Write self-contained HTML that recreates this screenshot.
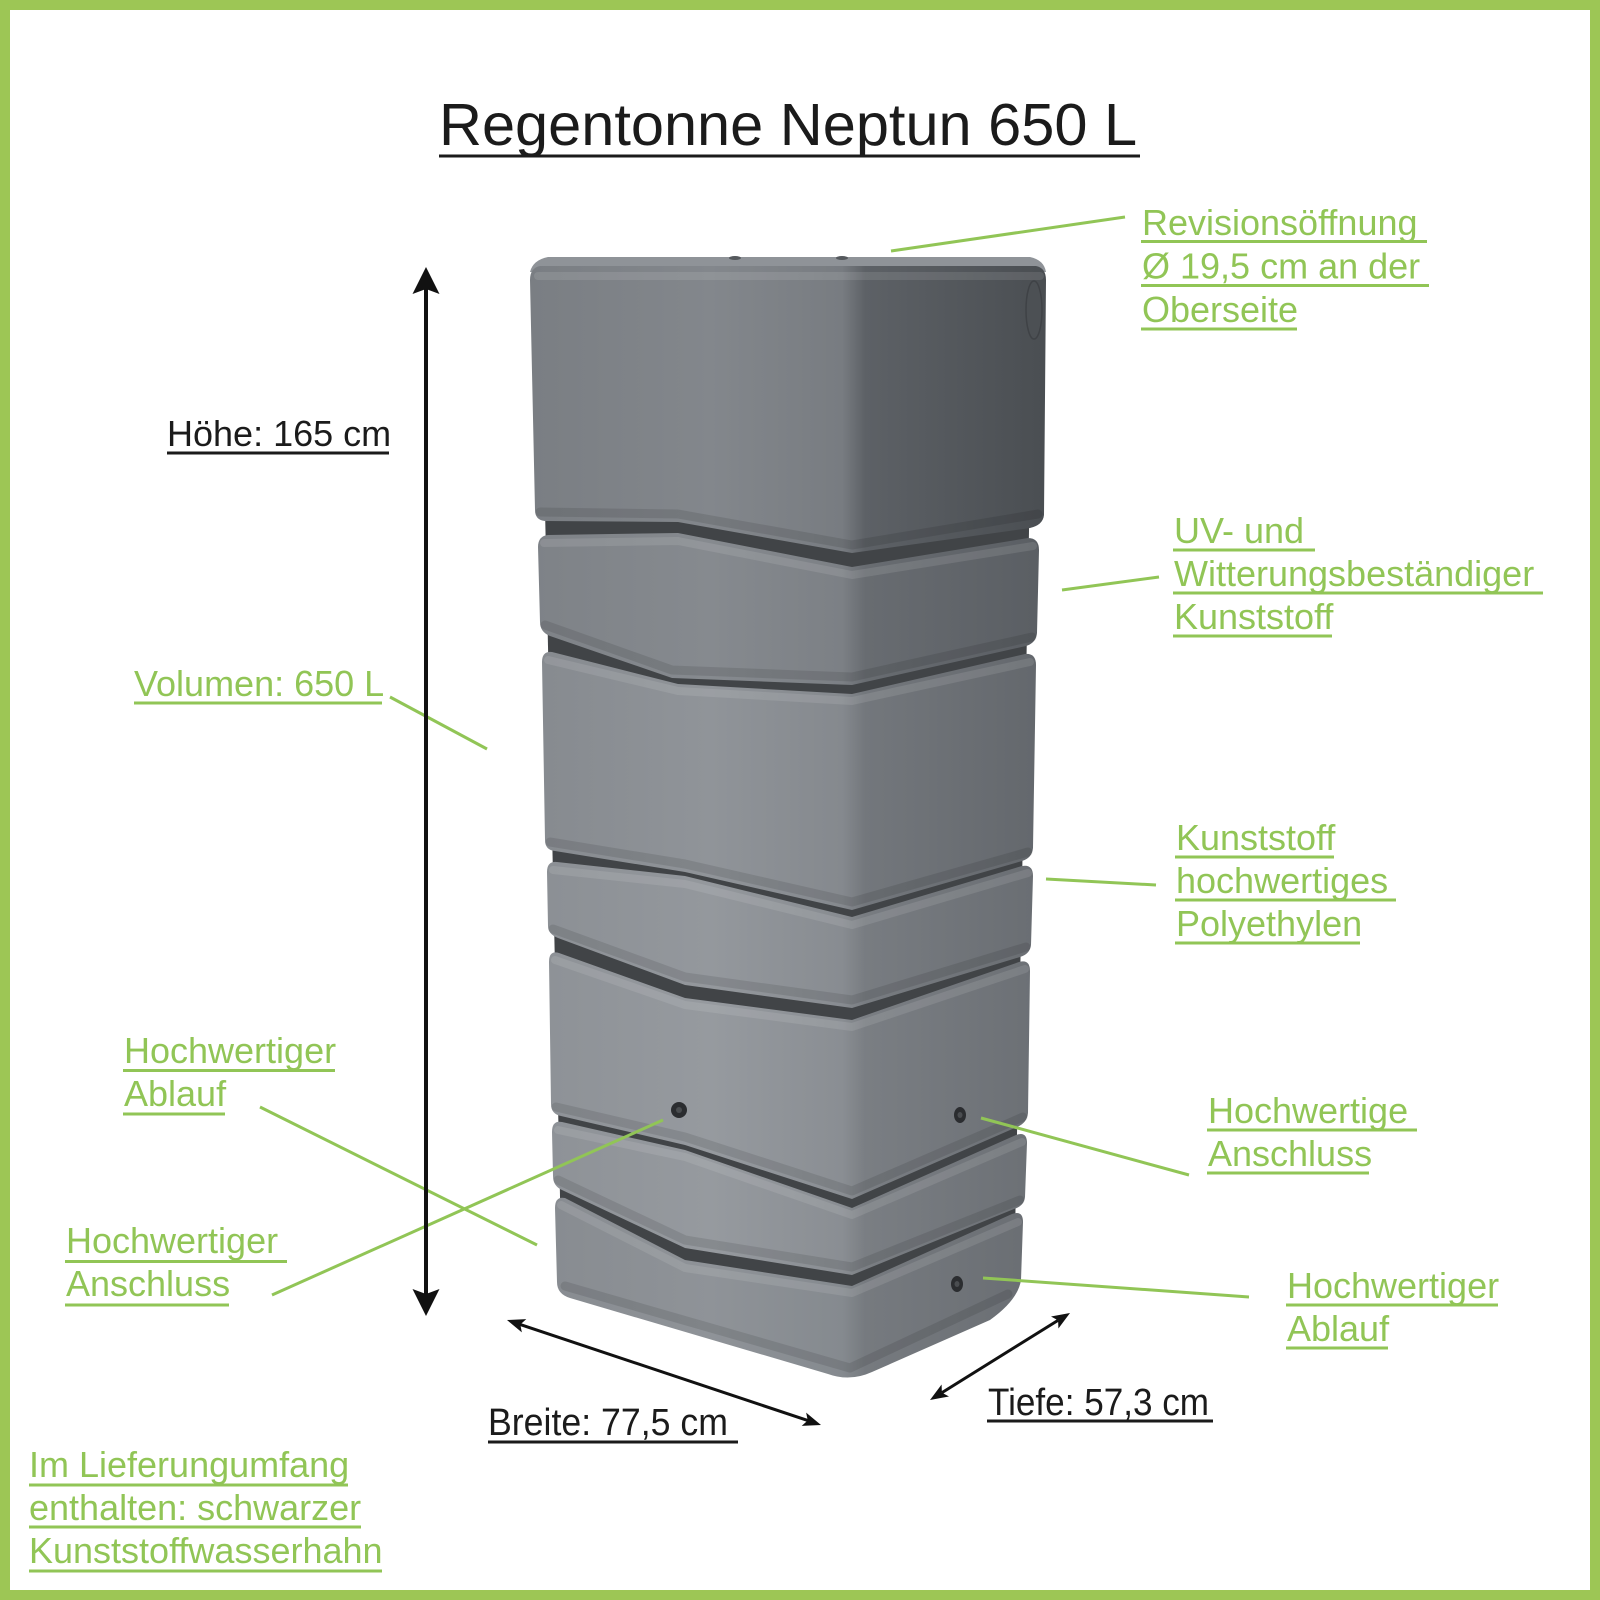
<!DOCTYPE html>
<html>
<head>
<meta charset="utf-8">
<style>
html,body{margin:0;padding:0;background:#fff;}
svg{display:block;}
</style>
</head>
<body>
<svg width="1600" height="1600" viewBox="0 0 1600 1600" xmlns="http://www.w3.org/2000/svg">
<defs>
<linearGradient id="g1" gradientUnits="userSpaceOnUse" x1="530" y1="0" x2="1046" y2="0">
<stop offset="0" stop-color="#7a7e83"/><stop offset="0.35" stop-color="#83878c"/><stop offset="0.605" stop-color="#787c81"/><stop offset="0.65" stop-color="#5d6166"/><stop offset="1" stop-color="#4a4e52"/>
</linearGradient>
<linearGradient id="g2" gradientUnits="userSpaceOnUse" x1="530" y1="0" x2="1046" y2="0">
<stop offset="0" stop-color="#7e8287"/><stop offset="0.35" stop-color="#868a8f"/><stop offset="0.605" stop-color="#7c8085"/><stop offset="0.65" stop-color="#686c71"/><stop offset="1" stop-color="#5a5e63"/>
</linearGradient>
<linearGradient id="g3" gradientUnits="userSpaceOnUse" x1="530" y1="0" x2="1046" y2="0">
<stop offset="0" stop-color="#868a8f"/><stop offset="0.35" stop-color="#909499"/><stop offset="0.605" stop-color="#85898e"/><stop offset="0.65" stop-color="#73777c"/><stop offset="1" stop-color="#63676c"/>
</linearGradient>
<linearGradient id="g4" gradientUnits="userSpaceOnUse" x1="530" y1="0" x2="1046" y2="0">
<stop offset="0" stop-color="#8b8f94"/><stop offset="0.35" stop-color="#94989d"/><stop offset="0.605" stop-color="#888c91"/><stop offset="0.65" stop-color="#787c81"/><stop offset="1" stop-color="#696d72"/>
</linearGradient>
<linearGradient id="g5" gradientUnits="userSpaceOnUse" x1="530" y1="0" x2="1046" y2="0">
<stop offset="0" stop-color="#8d9196"/><stop offset="0.35" stop-color="#969a9f"/><stop offset="0.605" stop-color="#8a8e93"/><stop offset="0.65" stop-color="#7a7e83"/><stop offset="1" stop-color="#6b6f74"/>
</linearGradient>
<linearGradient id="g7" gradientUnits="userSpaceOnUse" x1="530" y1="0" x2="1046" y2="0">
<stop offset="0" stop-color="#878b90"/><stop offset="0.35" stop-color="#8f9398"/><stop offset="0.605" stop-color="#858a8f"/><stop offset="0.65" stop-color="#767a7f"/><stop offset="1" stop-color="#696d72"/>
</linearGradient>
</defs>

<!-- border -->
<rect x="5" y="5" width="1590" height="1590" fill="#ffffff" stroke="#9dc655" stroke-width="10"/>

<!-- title -->
<text x="439" y="145" font-family="'Liberation Sans', Arial, sans-serif" font-size="59.5" fill="#1b1b1b">Regentonne Neptun 650 L</text>
<rect x="439" y="154.5" width="701" height="3" fill="#1b1b1b"/>

<!-- tank backing -->
<path d="M540,280 L1034,280 L1014,1285 L852,1370 L562,1288 Z" fill="#414447"/>

<!-- top surface -->
<path d="M548,257 L1030,257 Q1044,260 1046,272 L530,272 Q533,260 548,257 Z" fill="#8f9398"/>
<ellipse cx="735" cy="258" rx="6" ry="2" fill="#55595d"/>
<ellipse cx="842" cy="258" rx="6" ry="2" fill="#55595d"/>

<g stroke-linejoin="round">
<!-- block 1 -->
<path d="M540,266 L1036,266 Q1046,268 1046,280 L1044,515 Q1043,525 1030,528 L852,553 L678,522 L545,521 Q535,520 535,510 L530,280 Q530,268 540,266 Z" fill="url(#g1)"/>
<!-- block 2 -->
<path d="M548,535 L678,533 L852,567 L1028,538 Q1039,538 1039,550 L1037,633 Q1036,643 1026,646 L852,685 L672,678 L550,636 Q540,632 540,622 L538,547 Q538,536 548,535 Z" fill="url(#g2)"/>
<!-- block 3 -->
<path d="M552,652 L678,684 L852,694 L1025,654 Q1036,653 1036,665 L1033,848 Q1032,858 1022,861 L852,910 L685,872 L555,851 Q545,850 545,840 L542,662 Q542,651 552,652 Z" fill="url(#g3)"/>
<!-- block 4 -->
<path d="M557,862 L685,876 L852,917 L1022,866 Q1033,864 1033,876 L1031,945 Q1030,954 1020,957 L852,1008 L685,985 L558,938 Q548,934 548,926 L547,872 Q547,861 557,862 Z" fill="url(#g4)"/>
<!-- block 5 -->
<path d="M559,953 L685,998 L852,1020 L1019,962 Q1030,959 1030,971 L1028,1113 Q1027,1123 1017,1127 L852,1199 L685,1145 L561,1116 Q551,1114 551,1104 L549,962 Q549,950 559,953 Z" fill="url(#g5)"/>
<!-- block 6 -->
<path d="M562,1122 L685,1150 L852,1208 L1016,1135 Q1027,1131 1027,1143 L1025,1197 Q1024,1206 1014,1209 L852,1275 L685,1248 L562,1190 Q553,1186 553,1176 L552,1132 Q552,1120 562,1122 Z" fill="url(#g5)"/>
<!-- block 7 -->
<path d="M565,1198 L685,1260 L852,1286 L1012,1214 Q1023,1210 1023,1222 L1021,1280 Q1018,1300 990,1320 L872,1372 Q850,1382 828,1374 L570,1298 Q557,1294 557,1282 L555,1208 Q555,1196 565,1198 Z" fill="url(#g7)"/>
</g>

<!-- edge highlights / shadows -->
<g fill="none" stroke-linejoin="round" stroke-linecap="round">
<g stroke="rgba(255,255,255,0.10)" stroke-width="8">
<path d="M538,276 L1040,276"/>
<path d="M544,543 L678,541 L852,575 L1033,546"/>
<path d="M548,660 L678,691 L852,701 L1030,662"/>
<path d="M553,870 L685,884 L852,925 L1028,873"/>
<path d="M555,960 L685,1005 L852,1027 L1025,969"/>
<path d="M558,1130 L685,1157 L852,1215 L1022,1142"/>
<path d="M561,1205 L685,1268 L852,1293 L1018,1222"/>
</g>
<g stroke="rgba(0,0,0,0.10)" stroke-width="9">
<path d="M540,512 L678,514 L852,545 L1038,514"/>
<path d="M545,625 L672,670 L852,677 L1032,637"/>
<path d="M550,842 L685,864 L852,902 L1028,852"/>
<path d="M553,929 L685,977 L852,1000 L1026,947"/>
<path d="M556,1107 L685,1137 L852,1191 L1023,1117"/>
<path d="M558,1180 L685,1240 L852,1267 L1020,1200"/>
<path d="M565,1286 L850,1368 L1008,1294"/>
</g>
</g>

<!-- oval on top block -->
<ellipse cx="1034" cy="310" rx="8" ry="29" fill="#4c5054" stroke="#3f4246" stroke-width="1.5"/>

<!-- screws -->
<circle cx="679" cy="1110" r="8" fill="#2b2d30"/><circle cx="679" cy="1110" r="3" fill="#4a4d50"/>
<ellipse cx="960" cy="1115" rx="6" ry="8" fill="#2b2d30"/><ellipse cx="960" cy="1115" rx="2.5" ry="3" fill="#4a4d50"/>
<ellipse cx="957" cy="1284" rx="6" ry="8" fill="#2b2d30"/><ellipse cx="957" cy="1284" rx="2.5" ry="3" fill="#4a4d50"/>

<!-- green leader lines -->
<g stroke="#91c556" stroke-width="3" stroke-linecap="butt">
<line x1="891" y1="251" x2="1125" y2="217"/>
<line x1="1062" y1="590" x2="1159" y2="577"/>
<line x1="1046" y1="879" x2="1156" y2="885"/>
<line x1="390" y1="697" x2="487" y2="749"/>
<line x1="260" y1="1107" x2="537" y2="1245"/>
<line x1="272" y1="1295" x2="663" y2="1120"/>
<line x1="981" y1="1118" x2="1189" y2="1175"/>
<line x1="983" y1="1278" x2="1249" y2="1297"/>
</g>

<!-- black dimension arrows -->
<g fill="#111">
<rect x="424" y="287" width="4" height="1009"/>
<polygon points="426,267 439.5,294 426,289 412.5,294"/>
<polygon points="426,1316 439.5,1289 426,1294 412.5,1289"/>
<polygon points="507,1320 521.85,1332.35 520.28,1324.44 526.29,1319.07"/>
<polygon points="821,1425 801.71,1425.93 807.72,1420.56 806.15,1412.65"/>
<polygon points="1070,1313 1051.01,1316.55 1058.11,1320.39 1058.41,1328.45"/>
<polygon points="930,1400 941.59,1384.55 941.89,1392.61 948.99,1396.45"/>
</g>
<g stroke="#111" stroke-width="3">
<line x1="520" y1="1324.4" x2="808" y2="1420.6"/>
<line x1="1058" y1="1320.4" x2="942" y2="1392.6"/>
</g>

<!-- black labels -->
<g font-family="'Liberation Sans', Arial, sans-serif" fill="#1b1b1b">
<text x="167" y="446" font-size="36">Höhe: 165 cm</text>
<rect x="167" y="451.5" width="222" height="3"/>
<text x="488" y="1435" font-size="38" textLength="240" lengthAdjust="spacingAndGlyphs">Breite: 77,5 cm</text>
<rect x="488" y="1440.5" width="250" height="3"/>
<text x="988" y="1415" font-size="38" textLength="221" lengthAdjust="spacingAndGlyphs">Tiefe: 57,3 cm</text>
<rect x="987" y="1419.5" width="226" height="3"/>
</g>

<!-- green labels -->
<g font-family="'Liberation Sans', Arial, sans-serif" font-size="36" fill="#91c556">
<text x="1142" y="235">Revisionsöffnung</text>
<rect x="1141" y="240" width="286" height="3"/>
<text x="1142" y="278.5">Ø 19,5 cm an der</text>
<rect x="1141" y="284" width="288" height="3"/>
<text x="1142" y="322">Oberseite</text>
<rect x="1141" y="327.5" width="156" height="3"/>

<text x="1174" y="543">UV- und</text>
<rect x="1173" y="548.5" width="142" height="3"/>
<text x="1174" y="586">Witterungsbeständiger</text>
<rect x="1173" y="591.5" width="370" height="3"/>
<text x="1174" y="629">Kunststoff</text>
<rect x="1173" y="634.5" width="159" height="3"/>

<text x="1176" y="850">Kunststoff</text>
<rect x="1175" y="855.5" width="159" height="3"/>
<text x="1176" y="893">hochwertiges</text>
<rect x="1175" y="898.5" width="221" height="3"/>
<text x="1176" y="936">Polyethylen</text>
<rect x="1175" y="941.5" width="185" height="3"/>

<text x="1208" y="1123">Hochwertige</text>
<rect x="1207" y="1128.5" width="210" height="3"/>
<text x="1208" y="1166">Anschluss</text>
<rect x="1207" y="1171.5" width="162" height="3"/>

<text x="1287" y="1298">Hochwertiger</text>
<rect x="1286" y="1303.5" width="212" height="3"/>
<text x="1287" y="1341">Ablauf</text>
<rect x="1286" y="1346.5" width="102" height="3"/>

<text x="134" y="696">Volumen: 650 L</text>
<rect x="134" y="701.5" width="248" height="3"/>

<text x="124" y="1063">Hochwertiger</text>
<rect x="123" y="1069" width="212" height="3"/>
<text x="124" y="1106">Ablauf</text>
<rect x="123" y="1112.5" width="102" height="3"/>

<text x="66" y="1253">Hochwertiger</text>
<rect x="65" y="1260" width="222" height="3"/>
<text x="66" y="1296">Anschluss</text>
<rect x="65" y="1303.5" width="164" height="3"/>

<text x="29" y="1477">Im Lieferungumfang</text>
<rect x="29" y="1483.5" width="319" height="3"/>
<text x="29" y="1520">enthalten: schwarzer</text>
<rect x="29" y="1525.5" width="332" height="3"/>
<text x="29" y="1563">Kunststoffwasserhahn</text>
<rect x="29" y="1569.5" width="353" height="3"/>
</g>
</svg>
</body>
</html>
